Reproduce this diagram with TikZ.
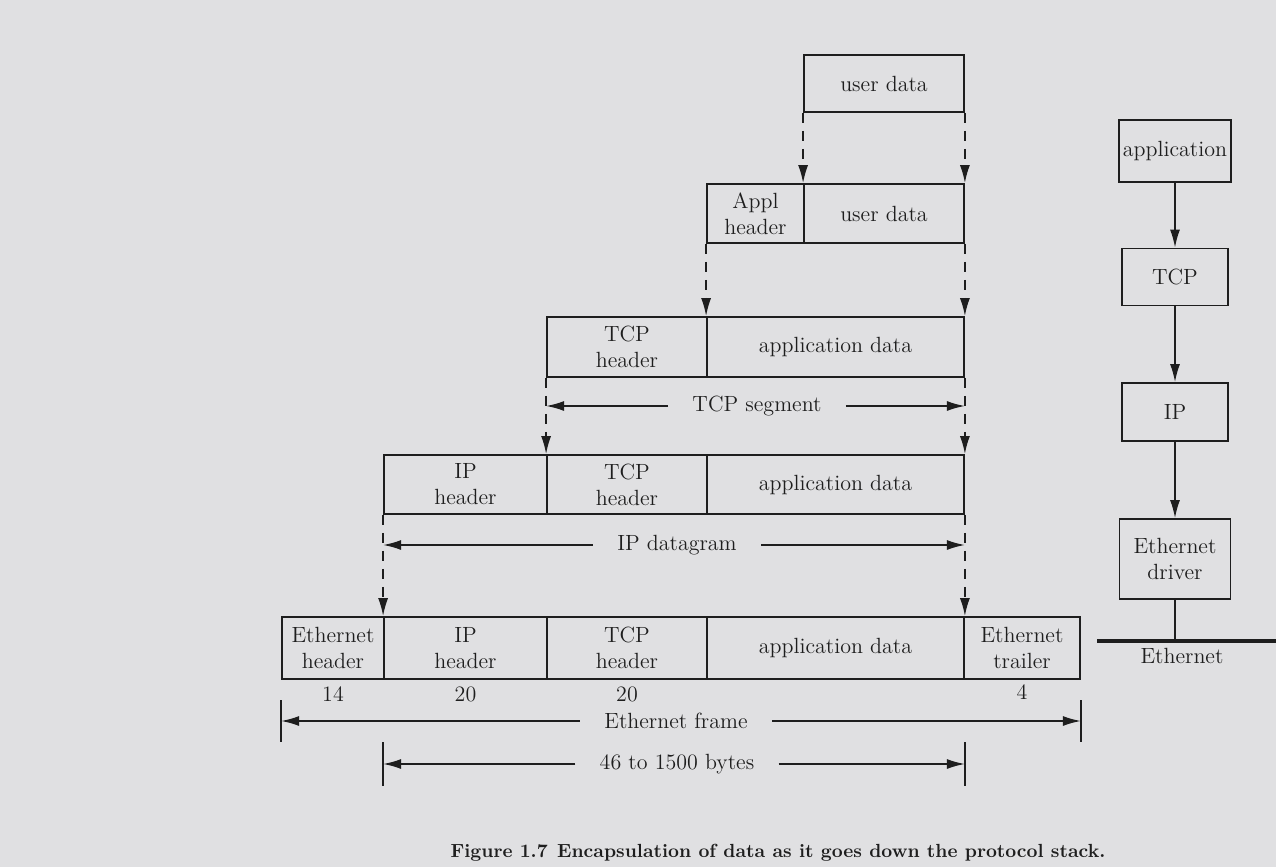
\documentclass[tikz,border=0pt]{standalone}
\usetikzlibrary{arrows.meta}
\definecolor{paper}{RGB}{224,224,226}
\definecolor{ink}{RGB}{30,30,30}
\begin{document}
\begin{tikzpicture}[x=0.5pt,y=-0.5pt,>={Latex[length=9pt,width=5pt]},
   every node/.style={text=ink,font=\fontsize{11}{13}\selectfont},
   cell/.style={draw=ink,line width=0.9pt,inner sep=0pt,align=center},
   dashdown/.style={->,draw=ink,line width=0.8pt,dash pattern=on 5pt off 4pt},
   arrowline/.style={->,draw=ink,line width=0.8pt},
   dimlabel/.style={inner xsep=12pt,inner ysep=2pt},
   endtick/.style={draw=ink,line width=0.8pt}]
   %page
   \fill[paper] (0,0) rectangle (1276,867);
   \useasboundingbox (0,0) rectangle (1276,867);
   %user data
   \node[cell,minimum width=80pt,minimum height=28.5pt] (ud1) at (884,83.5) {user data};
   %Appl header
   \node[cell,minimum width=48.5pt,minimum height=29.5pt] (appl) at (755.5,213.5) {Appl\\header};
   \node[cell,minimum width=80pt,minimum height=29.5pt] (ud2) at (884,213.5) {user data};
   %TCP segment
   \node[cell,minimum width=80pt,minimum height=30pt] (tcph3) at (627,347) {TCP\\header};
   \node[cell,minimum width=128.5pt,minimum height=30pt] (ad3) at (835.5,347) {application data};
   %IP datagram
   \node[cell,minimum width=81.5pt,minimum height=29.5pt] (iph4) at (465.5,484.5) {IP\\header};
   \node[cell,minimum width=80pt,minimum height=29.5pt] (tcph4) at (627,484.5) {TCP\\header};
   \node[cell,minimum width=128.5pt,minimum height=29.5pt] (ad4) at (835.5,484.5) {application data};
   %Ethernet frame
   \node[cell,minimum width=51pt,minimum height=31pt] (ethh) at (333,648) {Ethernet\\header};
   \node[cell,minimum width=81.5pt,minimum height=31pt] (iph5) at (465.5,648) {IP\\header};
   \node[cell,minimum width=80pt,minimum height=31pt] (tcph5) at (627,648) {TCP\\header};
   \node[cell,minimum width=128.5pt,minimum height=31pt] (ad5) at (835.5,648) {application data};
   \node[cell,minimum width=58pt,minimum height=31pt] (etht) at (1022,648) {Ethernet\\trailer};
   %sizes
   \node (n14) at (333,694) {14};
   \node (n20a) at (465.5,694) {20};
   \node (n20b) at (627,694) {20};
   \node (n4) at (1022,692) {4};
   %dashed arrows
   \draw[dashdown] (ud1.south west) -- (ud2.north west);
   \draw[dashdown] (ud1.south east) -- (ud2.north east);
   \draw[dashdown] (appl.south west) -- (ad3.north west);
   \draw[dashdown] (ud2.south east) -- (ad3.north east);
   \draw[dashdown] (tcph3.south west) -- (tcph4.north west);
   \draw[dashdown] (ad3.south east) -- (ad4.north east);
   \draw[dashdown] (iph4.south west) -- (iph5.north west);
   \draw[dashdown] (ad4.south east) -- (ad5.north east);
   %TCP segment length
   \node[dimlabel] (tcpseg) at (757,406) {TCP segment};
   \coordinate (tcpsegL) at (tcph3.south west |- tcpseg);
   \coordinate (tcpsegR) at (ad3.south east |- tcpseg);
   \draw[arrowline] (tcpseg) -- (tcpsegL);
   \draw[arrowline] (tcpseg) -- (tcpsegR);
   %IP datagram length
   \node[dimlabel] (ipdg) at (677,545) {IP datagram};
   \coordinate (ipdgL) at (iph4.south west |- ipdg);
   \coordinate (ipdgR) at (ad4.south east |- ipdg);
   \draw[arrowline] (ipdg) -- (ipdgL);
   \draw[arrowline] (ipdg) -- (ipdgR);
   %Ethernet frame length
   \node[dimlabel] (ethfr) at (676,721) {Ethernet frame};
   \coordinate (ethfrL) at (ethh.south west |- ethfr);
   \coordinate (ethfrR) at (etht.south east |- ethfr);
   \draw[arrowline] (ethfr) -- (ethfrL);
   \draw[arrowline] (ethfr) -- (ethfrR);
   \draw[endtick] ([yshift=10.5pt]ethfrL) -- ([yshift=-10.5pt]ethfrL);
   \draw[endtick] ([yshift=10.5pt]ethfrR) -- ([yshift=-10.5pt]ethfrR);
   %46 to 1500
   \node[dimlabel] (bytes) at (677,764) {46 to 1500 bytes};
   \coordinate (bytesL) at (iph5.south west |- bytes);
   \coordinate (bytesR) at (ad5.south east |- bytes);
   \draw[arrowline] (bytes) -- (bytesL);
   \draw[arrowline] (bytes) -- (bytesR);
   \draw[endtick] ([yshift=11pt]bytesL) -- ([yshift=-11pt]bytesL);
   \draw[endtick] ([yshift=11pt]bytesR) -- ([yshift=-11pt]bytesR);
   %protocol stack
   \node[cell,minimum width=56pt,minimum height=31pt] (sapp) at (1175,151) {application};
   \node[cell,minimum width=53pt,minimum height=28.5pt] (stcp) at (1175,277) {TCP};
   \node[cell,minimum width=53pt,minimum height=29pt] (sip) at (1175,412) {IP};
   \node[cell,minimum width=55.5pt,minimum height=40pt] (sdrv) at (1175,559) {Ethernet\\driver};
   \draw[arrowline] (sapp) -- (stcp);
   \draw[arrowline] (stcp) -- (sip);
   \draw[arrowline] (sip) -- (sdrv);
   %Ethernet
   \coordinate (ethL) at (1097,641);
   \coordinate (ethR) at (1276,641);
   \draw[draw=ink,line width=2pt] (ethL) -- (ethR);
   \draw[endtick] (sdrv.south) -- (sdrv.south |- ethL);
   \node (ethlab) at (1182,656) {Ethernet};
   %caption
   \node[font=\fontsize{9.5}{11}\selectfont\bfseries] (cap) at (778,853) {Figure 1.7\enspace Encapsulation of data as it goes down the protocol stack.};
\end{tikzpicture}
\end{document}
